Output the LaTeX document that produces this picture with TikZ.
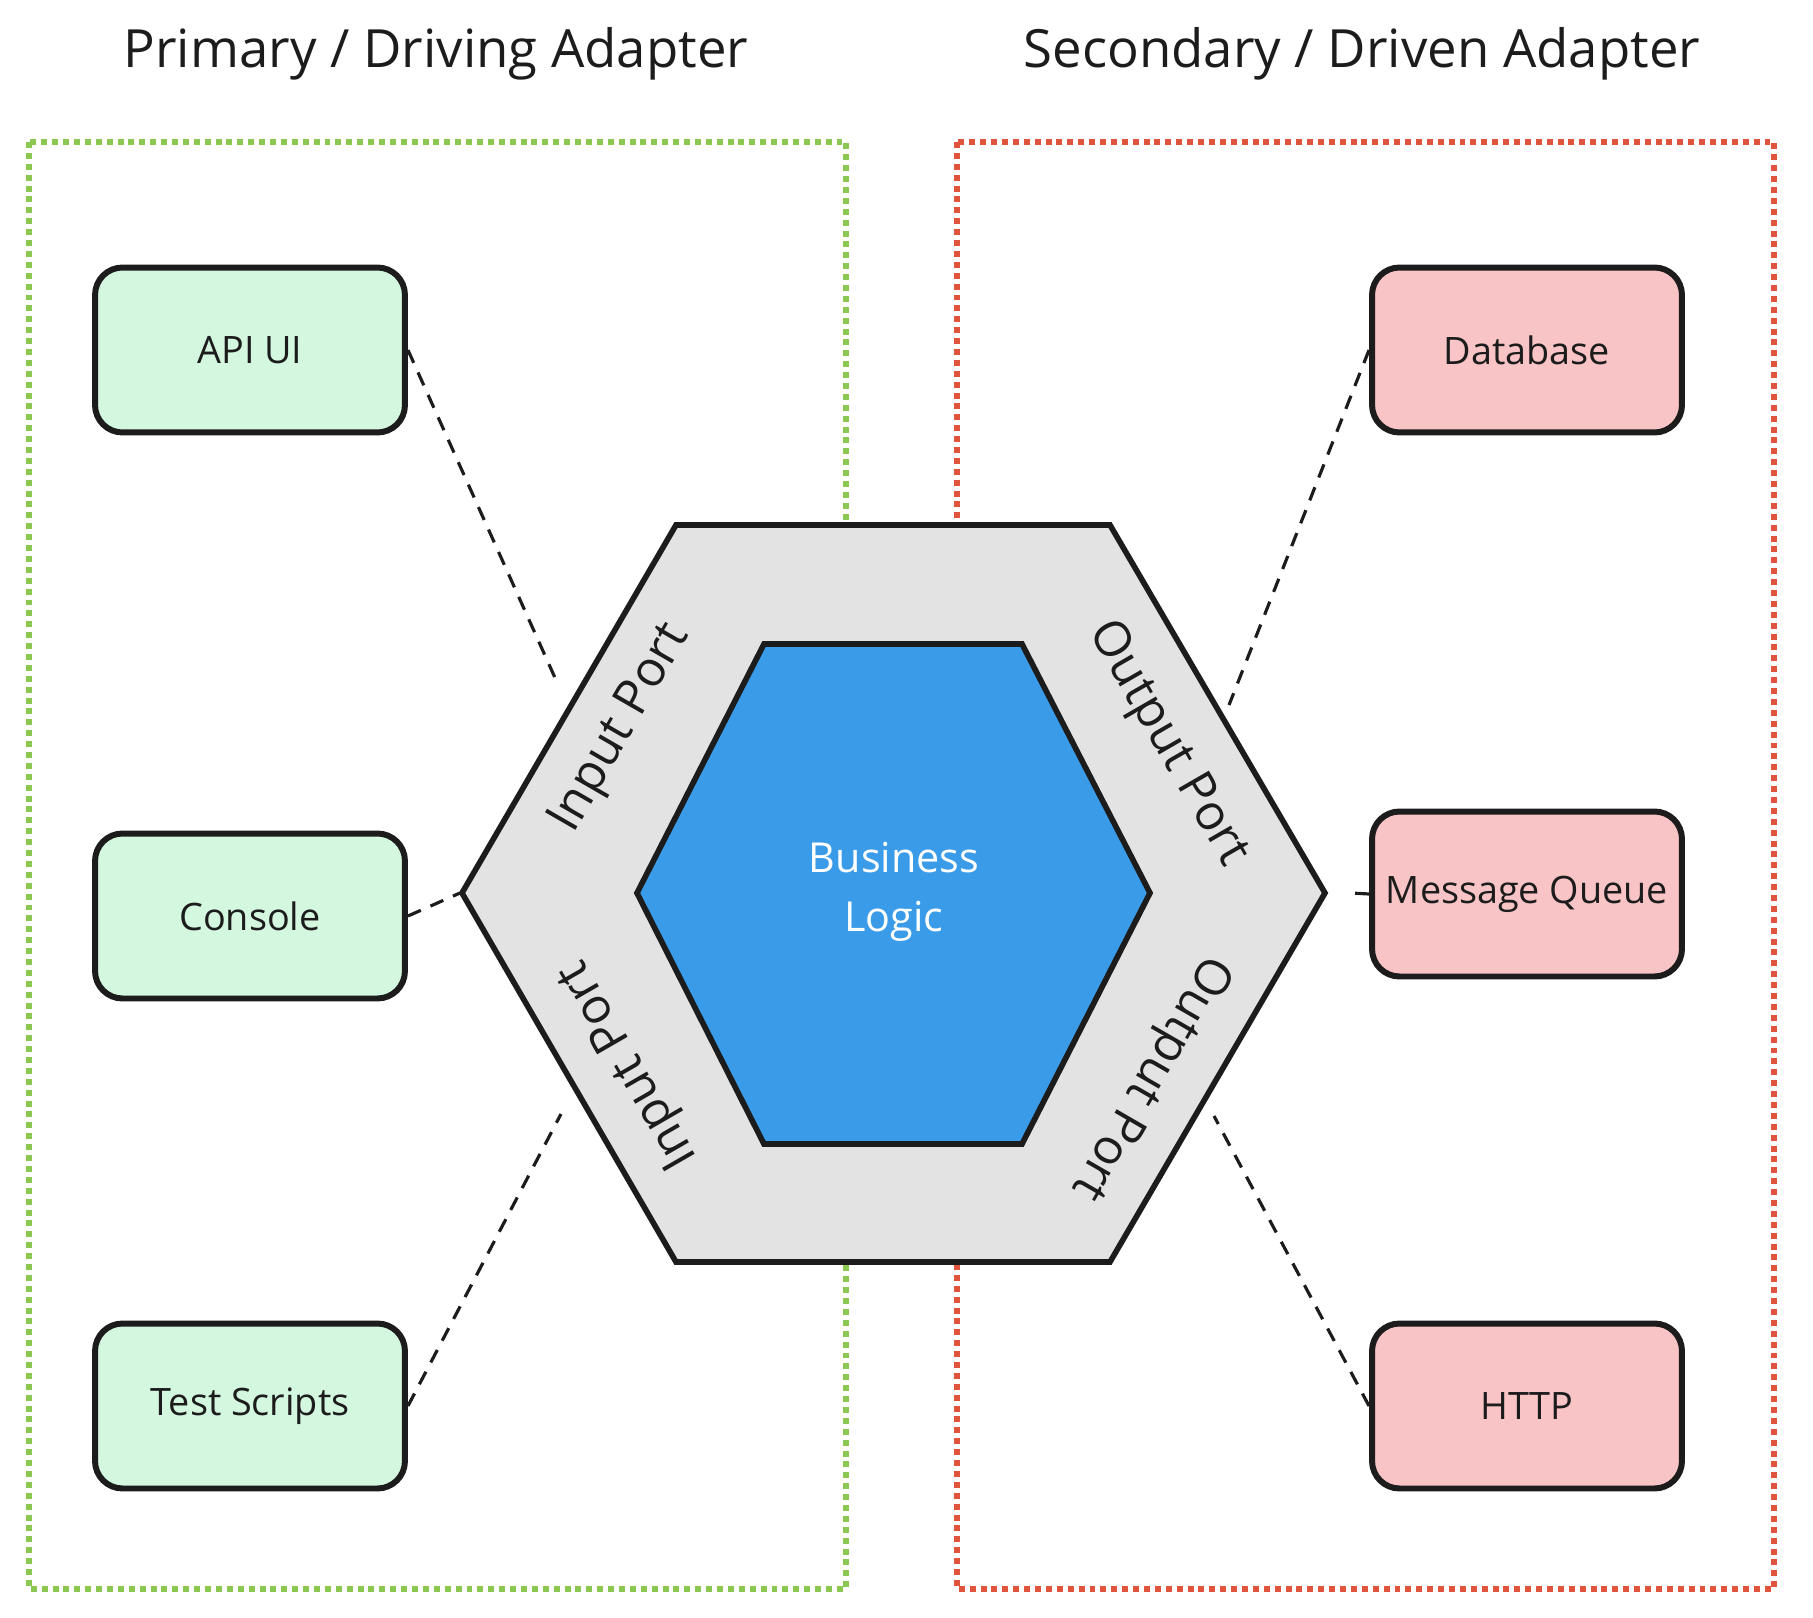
\documentclass[tikz,border=0pt]{standalone}
\usepackage{fontspec}
\setmainfont{Open Sans}
\usetikzlibrary{positioning}
\definecolor{drivgreen}{HTML}{8CC751}
\definecolor{drivenred}{HTML}{E0533C}
\definecolor{adgreen}{HTML}{D4F7E0}
\definecolor{adred}{HTML}{F8C4C6}
\definecolor{coreblue}{HTML}{3A9BE8}
\definecolor{portgray}{HTML}{E3E3E3}
\definecolor{inkdark}{HTML}{1C1C1C}
\tikzset{
  zone/.style={line width=3pt,dash pattern=on 3.4pt off 2.8pt},
  adbox/.style={draw=inkdark,line width=3.4pt,rounded corners=0.55cm,
    minimum width=6.2cm,minimum height=3.3cm,text=inkdark,
    font=\fontsize{21.5}{26}\selectfont},
  drvbox/.style={adbox,fill=adgreen},
  dvnbox/.style={adbox,fill=adred},
  hexline/.style={draw=inkdark,line width=3.2pt,line join=miter},
  portlbl/.style={font=\fontsize{28}{32}\selectfont,text=inkdark},
  corelbl/.style={font=\fontsize{23.5}{33.5}\selectfont,text=white,align=center},
  link/.style={line width=1.8pt,dash pattern=on 8pt off 6pt,inkdark},
  ttl/.style={font=\fontsize{30}{34}\selectfont,text=inkdark},
}

\begin{document}
\begin{tikzpicture}[x=0.02cm,y=-0.02cm]
  \useasboundingbox (0,0) rectangle (1813,1618);
  % zones
  \draw[zone,drivgreen] (29,142) rectangle (846,1589);
  \draw[zone,drivenred] (957,142) rectangle (1774,1589);
  \node[ttl] (ttlL) at (436,54) {Primary / Driving Adapter};
  \node[ttl] (ttlR) at (1362,54) {Secondary / Driven Adapter};

  % hexagon core
  \filldraw[hexline,fill=portgray] (676,525)--(1110,525)--(1325,893)--(1110,1262)
    --(676,1262)--(462,893)--cycle;
  \filldraw[hexline,fill=coreblue] (764,644)--(1022,644)--(1150,893)--(1022,1144)
    --(764,1144)--(637,893)--cycle;
  \node[corelbl] (core) at (894,892) {Business\\Logic};
  \node[portlbl,rotate=60] (inTop) at (621,729) {Input Port};
  \node[portlbl,rotate=120] (inBot) at (630,1064) {Input Port};
  \node[portlbl,rotate=-60] (outTop) at (1167,744) {Output Port};
  \node[portlbl,rotate=-120] (outBot) at (1150,1077) {Output Port};

  % adapters
  \node[drvbox] (api) at (250,350) {API UI};
  \node[drvbox] (console) at (250,916) {Console};
  \node[drvbox] (tests) at (250,1406) {Test Scripts};
  \node[dvnbox] (db) at (1527,350) {Database};
  \node[dvnbox] (mq) at (1527,894) {Message Queue};
  \node[dvnbox] (http) at (1527,1406) {HTTP};

  \coordinate (apiEnd) at (556,680);
  \coordinate (consoleEnd) at (460,893);
  \coordinate (testsEnd) at (561,1114);
  \coordinate (dbEnd) at (1229,705);
  \coordinate (mqEnd) at (1351,893);
  \coordinate (httpEnd) at (1214,1116);
  \draw[link] (api.east) -- (apiEnd);
  \draw[link] (console.east) -- (consoleEnd);
  \draw[link] (tests.east) -- (testsEnd);
  \draw[link] (db.west) -- (dbEnd);
  \draw[link] (mq.west) -- (mqEnd);
  \draw[link] (http.west) -- (httpEnd);
\end{tikzpicture}
\end{document}
